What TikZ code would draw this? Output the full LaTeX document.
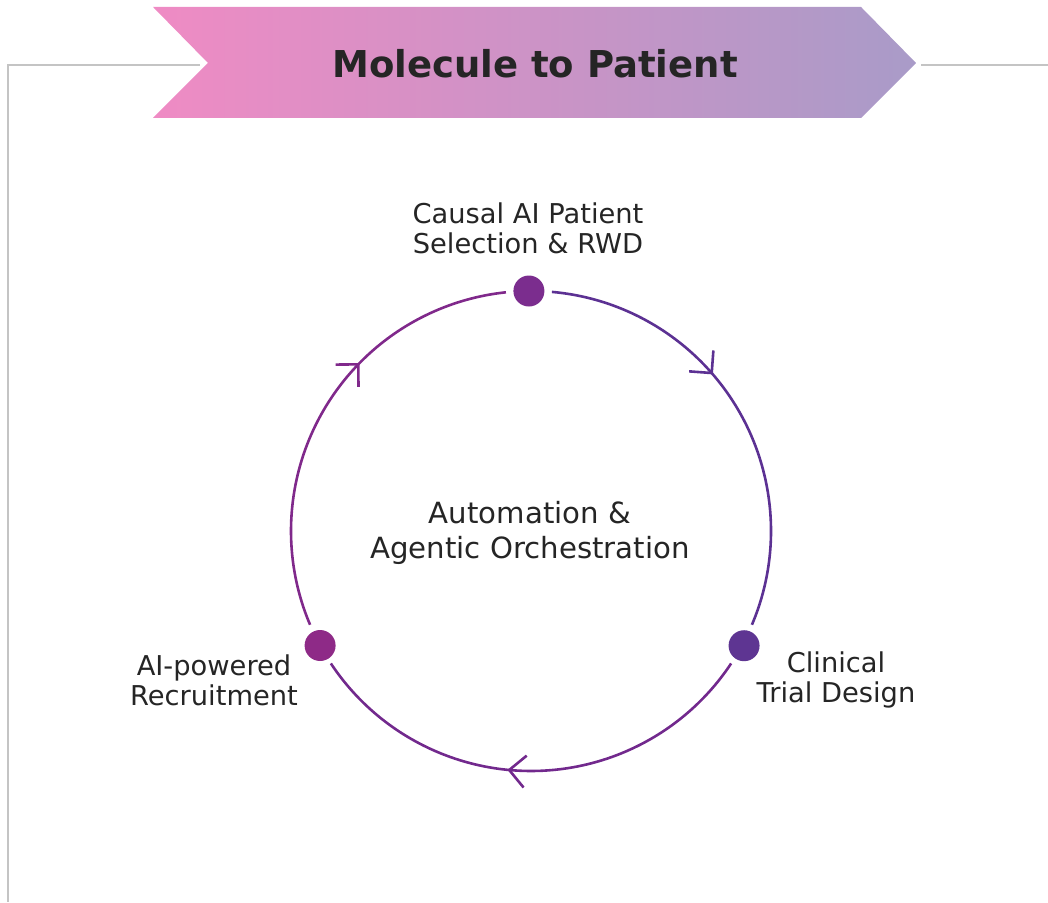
\documentclass[tikz,border=0pt]{standalone}
\usepackage{fontspec}
\setmainfont{DejaVu Sans}
\usetikzlibrary{arrows.meta,decorations.markings,calc}
\definecolor{bannerL}{HTML}{EF8BC4}
\definecolor{bannerR}{HTML}{A99BC8}
\definecolor{frameGray}{HTML}{C4C4C4}
\definecolor{txtDark}{HTML}{252525}
\definecolor{arcA}{HTML}{5C3193}
\definecolor{arcB}{HTML}{72298D}
\definecolor{arcC}{HTML}{80298B}
\definecolor{dotTop}{HTML}{7B2D8E}
\definecolor{dotRight}{HTML}{5E3592}
\definecolor{dotLeft}{HTML}{8E2A87}
\tikzset{
  cyclearc/.style={line width=2.6pt,decoration={markings,
      mark=at position #1 with {\arrow{Straight Barb[length=16pt,width=32pt]}}},
    postaction={decorate}},
  steplabel/.style={text=txtDark,font=\fontsize{27.3}{29.5}\selectfont,align=center},
}
\begin{document}
\begin{tikzpicture}[x=1pt,y=1pt]
\useasboundingbox (0,0) rectangle (1048,902);
% frame lines
\draw [frameGray,line width=2.6pt] (200,837) -- (8,837) -- (8,0);
\draw [frameGray,line width=2.6pt] (921,837) -- (1048,837);
% banner
\shade [left color=bannerL,right color=bannerR]
  (153,895) -- (861,895) -- (916,839) -- (861,784) -- (153,784) -- (208,839) -- cycle;
\node (title) at (535,838) {\fontsize{37}{42}\selectfont\bfseries\color{txtDark}Molecule to Patient};
% cycle
\coordinate (O) at (531,371);
\coordinate (sel) at ($(O)+(90.5:240)$);
\coordinate (trial) at ($(O)+(-28.3:242)$);
\coordinate (recr) at ($(O)+(208.5:240)$);
\draw [arcA,cyclearc=0.41] ($(O)+(85:240)$) arc[start angle=85,end angle=-23,radius=240];
\draw [arcB,cyclearc=0.55] ($(O)+(-33.5:240)$) arc[start angle=-33.5,end angle=-146.5,radius=240];
\draw [arcC,cyclearc=0.63] ($(O)+(203:240)$) arc[start angle=203,end angle=96,radius=240];
\fill [dotTop] (sel) circle (15.5);
\fill [dotRight] (trial) circle (15.5);
\fill [dotLeft] (recr) circle (15.5);
% labels
\node [steplabel] (selText) at (528,673.5) {Causal AI Patient\\Selection \& RWD};
\node [steplabel] (trialText) at (836,222) {Clinical\\Trial Design};
\node [steplabel] (recrText) at (214,221.5) {AI-powered\\Recruitment};
\node [text=txtDark,font=\fontsize{29.2}{35}\selectfont,align=center] (core) at (530,369.5)
  {Automation \&\\Agentic Orchestration};
\end{tikzpicture}
\end{document}
